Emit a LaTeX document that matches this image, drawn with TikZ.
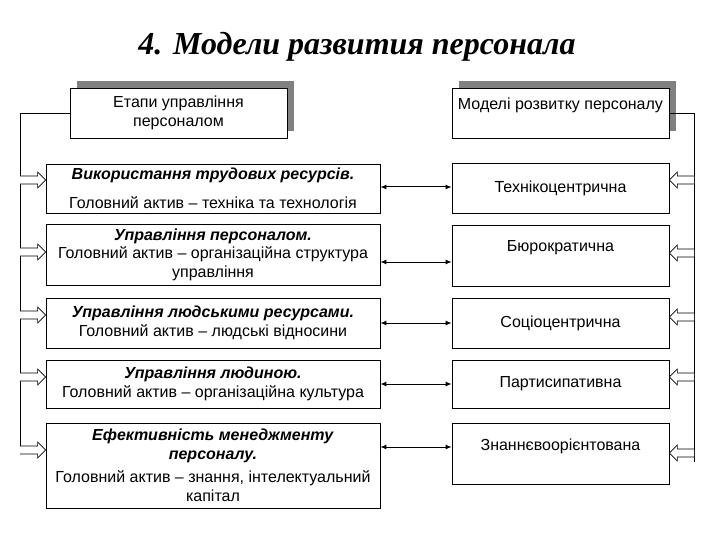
\documentclass[tikz,border=0pt]{standalone}
\usepackage{fontspec}
\setmainfont{Liberation Sans}
\newfontfamily\titlefont{Liberation Serif}
\usetikzlibrary{arrows.meta,calc,positioning,shadows}

\begin{document}
\begin{tikzpicture}[x=1pt,y=-1pt,>=Latex,font=\fontsize{16}{18.5}\selectfont,every node/.style={align=center},
    stagebox/.style={draw,line width=0.8pt,minimum width=334pt},
    modelbox/.style={draw,line width=0.8pt,minimum width=217pt},
    headbox/.style={draw,line width=0.8pt,fill=white,minimum width=217pt,minimum height=50pt,
      drop shadow={shadow xshift=7pt,shadow yshift=7pt,fill=black!50,opacity=1}},
    feed/.style={draw,fill=white,line width=0.6pt,to path={let \p1=(\tikztostart),\p2=(\tikztotarget),\n1={sign(\x2-\x1)} in
      (\x1,\y1+4pt) -- (\x2-\n1*8pt,\y1+4pt) -- (\x2-\n1*8pt,\y1+8pt) -- (\x2,\y1)
      -- (\x2-\n1*8pt,\y1-8pt) -- (\x2-\n1*8pt,\y1-4pt) -- (\x1,\y1-4pt)}},
    link/.style={{Latex[length=6pt,width=5pt]}-{Latex[length=6pt,width=5pt]},line width=1pt}]
    \useasboundingbox (0,0) rectangle (720,540);
    \node (title) at (357,47) {\titlefont\bfseries\itshape\fontsize{32}{36}\selectfont 4. Модели развития персонала};
    \node[headbox] (stages) at (178.5,113) {Етапи управління\\персоналом};
    \node[headbox] (models) at (560.5,113) {Моделі розвитку персоналу\\ \mbox{}};
    % stages
    \node[stagebox,minimum height=49pt] (s1) at (213,188.5) {\textbf{\textit{Використання трудових ресурсів.}}\\[11pt]Головний актив – техніка та технологія};
    \node[stagebox,minimum height=61pt] (s2) at (213,254.5) {\textbf{\textit{Управління персоналом.}}\\Головний актив – організаційна структура\\управління};
    \node[stagebox,minimum height=50pt] (s3) at (213,323) {\textbf{\textit{Управління людськими ресурсами.}}\\Головний актив – людські відносини};
    \node[stagebox,minimum height=48pt] (s4) at (213,384) {\textbf{\textit{Управління людиною.}}\\Головний актив – організаційна культура};
    \node[stagebox,minimum height=85pt] (s5) at (213,465.5) {\textbf{\textit{Ефективність менеджменту}}\\\textbf{\textit{персоналу.}}\\[5pt]Головний актив – знання, інтелектуальний\\капітал};
    % models
    \node[modelbox,minimum height=50pt] (m1) at (560.5,188) {Технікоцентрична};
    \node[modelbox,minimum height=61pt] (m2) at (560.5,255.5) {Бюрократична\\ \mbox{}};
    \node[modelbox,minimum height=50pt] (m3) at (560.5,323) {Соціоцентрична};
    \node[modelbox,minimum height=48pt] (m4) at (560.5,384) {Партисипативна};
    \node[modelbox,minimum height=61pt] (m5) at (560.5,453.5) {Знаннєвоорієнтована\\ \mbox{}};
    % brackets
    \coordinate (ltop) at (20,113); \coordinate (lbot) at (20,446);
    \coordinate (rtop) at (694,113); \coordinate (rbot) at (694,462);
    \draw[line width=0.8pt] (stages.west) -- (ltop) -- (lbot);
    \draw[line width=0.8pt] (models.east) -- (rtop) -- (rbot);
    \draw[feed] (ltop |- 0,180) to (s1.west |- 0,180);
    \draw[feed] (ltop |- 0,252) to (s2.west |- 0,252);
    \draw[feed] (ltop |- 0,315) to (s3.west |- 0,315);
    \draw[feed] (ltop |- 0,377) to (s4.west |- 0,377);
    \draw[feed] (ltop |- 0,450) to (s5.west |- 0,450);
    \draw[feed] (rtop |- 0,180) to (m1.east |- 0,180);
    \draw[feed] (rtop |- 0,253) to (m2.east |- 0,253);
    \draw[feed] (rtop |- 0,317) to (m3.east |- 0,317);
    \draw[feed] (rtop |- 0,377) to (m4.east |- 0,377);
    \draw[feed] (rtop |- 0,453) to (m5.east |- 0,453);
    % stage <-> model
    \draw[link] (s1.east |- 0,187) -- (m1.west |- 0,187);
    \draw[link] (s2.east |- 0,262) -- (m2.west |- 0,262);
    \draw[link] (s3.east |- 0,323) -- (m3.west |- 0,323);
    \draw[link] (s4.east |- 0,384) -- (m4.west |- 0,384);
    \draw[link] (s5.east |- 0,447) -- (m5.west |- 0,447);
  \end{tikzpicture}
\end{document}
